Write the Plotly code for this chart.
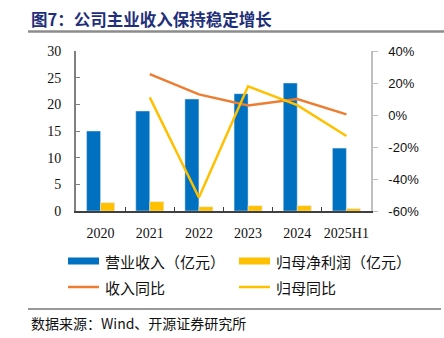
import plotly.graph_objects as go

# 数据
years = ["2020", "2021", "2022", "2023", "2024", "2025H1"]
revenue = [15.0, 18.75, 21.0, 22.0, 24.0, 11.8]          # 营业收入（亿元）
net_profit = [1.56, 1.75, 0.8, 1.0, 1.0, 0.45]            # 归母净利润（亿元）
revenue_yoy = [None, 25.6, 12.9, 5.9, 10.0, 0.4]          # 收入同比（%）
profit_yoy = [None, 11.0, -51.6, 17.9, 6.2, -13.1]        # 归母同比（%）

left_ticks = [0, 5, 10, 15, 20, 25, 30]
right_ticks = [-60, -40, -20, 0, 20, 40]

BLUE = "#0070C0"
GOLD = "#FFC000"
ORANGE = "#ED7D31"
CJK = "Noto Sans CJK SC"
SERIF = "Liberation Serif"

W, H = 444, 338
L, R, T, B = 76, 73, 51, 127
PW, PH = W - L - R, H - T - B


def xp(px):
    return (px - L) / PW


def yp(py):
    return (H - B - py) / PH


fig = go.Figure()
fig.add_trace(go.Bar(x=years, y=revenue, name="营业收入（亿元）", marker_color=BLUE,
                     showlegend=False))
fig.add_trace(go.Bar(x=years, y=net_profit, name="归母净利润（亿元）", marker_color=GOLD,
                     showlegend=False))
fig.add_trace(go.Scatter(x=years, y=revenue_yoy, name="收入同比", mode="lines",
                         line=dict(color=ORANGE, width=2.5), yaxis="y2", showlegend=False))
fig.add_trace(go.Scatter(x=years, y=profit_yoy, name="归母同比", mode="lines",
                         line=dict(color=GOLD, width=2.5), yaxis="y2", showlegend=False))

fig.update_layout(
    width=W, height=H,
    margin=dict(l=L, r=R, t=T, b=B, pad=0),
    paper_bgcolor="white", plot_bgcolor="white",
    barmode="group", bargap=0.43, bargroupgap=0,
    xaxis=dict(type="category", showline=True, linecolor="#404040", linewidth=1.5,
               ticks="inside", tickson="boundaries", ticklen=4, tickcolor="#404040",
               tickangle=0,
               tickfont=dict(family=SERIF, size=14, color="#111"),
               ticklabelstandoff=8, showgrid=False, zeroline=False),
    yaxis=dict(range=[0, 30], tickvals=left_ticks, showline=True, linecolor="#808080",
               linewidth=2, ticks="inside", ticklen=4, tickcolor="#808080",
               tickfont=dict(family=SERIF, size=14, color="#111"),
               ticklabelstandoff=10, showgrid=False, zeroline=False),
    yaxis2=dict(range=[-60, 40], tickvals=right_ticks,
                ticktext=[f"{v}%" for v in right_ticks],
                overlaying="y", side="right", anchor="x",
                showline=True, linecolor="#BFBFBF", linewidth=1.5,
                ticks="outside", ticklen=5, tickcolor="#BFBFBF",
                tickfont=dict(family="Liberation Sans", size=13, color="#111"),
                ticklabelstandoff=8, showgrid=False, zeroline=False),
)

shapes = []
annotations = []

# 标题与下划线
annotations.append(dict(text="<b>图7：公司主业收入保持稳定增长</b>", x=xp(29), y=yp(19),
                        xref="paper", yref="paper", xanchor="left", yanchor="middle",
                        showarrow=False, font=dict(family=CJK, size=16.5, color="#1F2F7A")))
shapes.append(dict(type="line", xref="paper", yref="paper", x0=xp(28), x1=xp(444),
                   y0=yp(31.5), y1=yp(31.5), line=dict(color="#8C8C8C", width=2.5)))

# 图例
legend_items = [
    ("bar", BLUE, "营业收入（亿元）", 68, 261),
    ("bar", GOLD, "归母净利润（亿元）", 239, 261),
    ("line", ORANGE, "收入同比", 68, 287),
    ("line", GOLD, "归母同比", 239, 287),
]
for kind, color, label, x0, yc in legend_items:
    if kind == "bar":
        shapes.append(dict(type="rect", xref="paper", yref="paper", x0=xp(x0), x1=xp(x0 + 31),
                           y0=yp(yc + 3.5), y1=yp(yc - 3.5), fillcolor=color,
                           line=dict(width=0)))
    else:
        shapes.append(dict(type="line", xref="paper", yref="paper", x0=xp(x0), x1=xp(x0 + 31),
                           y0=yp(yc), y1=yp(yc), line=dict(color=color, width=2.5)))
    annotations.append(dict(text=label, x=xp(x0 + 35), y=yp(yc), xref="paper", yref="paper",
                            xanchor="left", yanchor="middle", showarrow=False,
                            font=dict(family=CJK, size=15, color="#111")))

# 数据来源
shapes.append(dict(type="line", xref="paper", yref="paper", x0=xp(28), x1=xp(441),
                   y0=yp(309), y1=yp(309), line=dict(color="#333333", width=1)))
annotations.append(dict(text="数据来源：Wind、开源证券研究所", x=xp(29), y=yp(323),
                        xref="paper", yref="paper", xanchor="left", yanchor="middle",
                        showarrow=False, font=dict(family=CJK, size=14, color="#111")))

fig.update_layout(shapes=shapes, annotations=annotations)
fig.write_html("out.html")
